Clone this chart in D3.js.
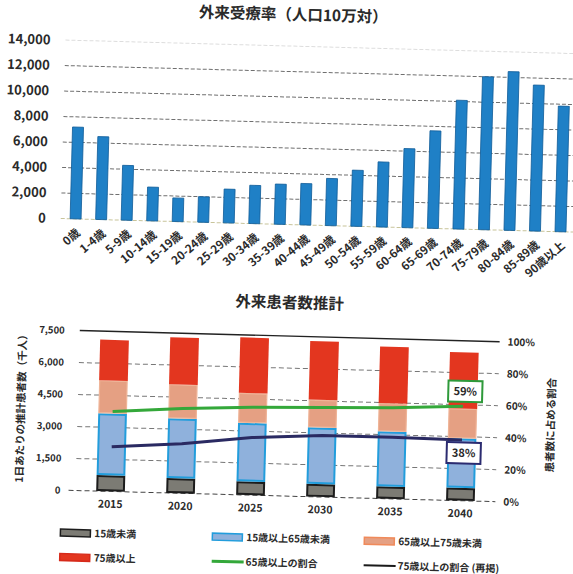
<!DOCTYPE html>
<html lang="ja">
<head>
<meta charset="utf-8">
<script src="https://cdn.jsdelivr.net/npm/d3@7"></script>
<style>
  html, body { margin: 0; padding: 0; background: #fff; }
  svg { display: block; }
  text { font-family: "Noto Sans CJK JP", "Noto Sans", sans-serif; fill: #2a2a2a; }
</style>
</head>
<body>
<script>
// 外来受療率（人口10万対）
const ageGroups = ["0歳","1-4歳","5-9歳","10-14歳","15-19歳","20-24歳","25-29歳","30-34歳","35-39歳","40-44歳",
  "45-49歳","50-54歳","55-59歳","60-64歳","65-69歳","70-74歳","75-79歳","80-84歳","85-89歳","90歳以上"];
const visitRate = [7200, 6500, 4300, 2650, 1850, 2000, 2650, 3000, 3150, 3250,
  3700, 4400, 5100, 6200, 7650, 10100, 12000, 12450, 11450, 9850];
const rateTicks = [0, 2000, 4000, 6000, 8000, 10000, 12000, 14000];

// 外来患者数推計（千人）
const years = ["2015", "2020", "2025", "2030", "2035", "2040"];
const under15 = [750, 700, 630, 600, 570, 600];
const age15to64 = [2900, 2800, 2750, 2650, 2580, 2320];
const age65to74 = [1550, 1600, 1400, 1300, 1330, 1400];
const age75plus = [1900, 2200, 2600, 2750, 2650, 2630];
const share65plus = [50, 53, 55, 56, 57, 59];
const share75plus = [28, 31, 36, 38.5, 38.5, 38];
const patientTicks = [0, 1500, 3000, 4500, 6000, 7500];
const shareTicks = [0, 20, 40, 60, 80, 100];
const seriesKeys = ["15歳未満", "15歳以上65歳未満", "65歳以上75歳未満", "75歳以上"];
const lineKeys = ["65歳以上の割合", "75歳以上の割合 (再掲)"];

const W = 573, H = 574;
const svg = d3.select("body").append("svg").attr("width", W).attr("height", H);
svg.append("rect").attr("width", W).attr("height", H).attr("fill", "#fff");
// the printed page sits slightly skewed
const root = svg.append("g").attr("transform", "rotate(1.52, 286, 287)");

/* ---------- upper chart: visit rate by age ---------- */
const rateChart = root.append("g");
const xTop = d3.scaleBand().domain(ageGroups).range([61.1, 571.7]).paddingInner(0.57).paddingOuter(0.285);
const yTop = d3.scaleLinear().domain([0, 14000]).range([224.5, 46]);

rateChart.append("text").attr("x", 286).attr("y", 20).attr("text-anchor", "middle")
  .attr("font-size", 15.5).attr("font-weight", 700).text("外来受療率（人口10万対）");

rateChart.append("g").selectAll("line").data(rateTicks).join("line")
  .attr("x1", 59).attr("x2", 573)
  .attr("y1", d => yTop(d)).attr("y2", d => yTop(d))
  .attr("stroke", d => d === 14000 ? "#ddd" : (d === 0 ? "#c8c49a" : "#6f6f6f"))
  .attr("stroke-width", 1).attr("stroke-dasharray", "4 2");

const yAxisTop = rateChart.append("g").attr("transform", "translate(50,0)")
  .call(d3.axisLeft(yTop).tickValues(rateTicks).tickFormat(d3.format(",")).tickSize(0).tickPadding(6));
yAxisTop.select(".domain").remove();
yAxisTop.selectAll("text").attr("font-size", 13).attr("font-weight", 700).attr("fill", "#333")
  .style("font-family", '"Noto Sans CJK JP", sans-serif');

rateChart.append("g").selectAll("rect").data(ageGroups).join("rect")
  .attr("x", d => xTop(d)).attr("width", xTop.bandwidth())
  .attr("y", (d, i) => yTop(visitRate[i])).attr("height", (d, i) => yTop(0) - yTop(visitRate[i]))
  .attr("fill", "#1f80c6").attr("stroke", "#0f5c98").attr("stroke-width", 0.8);

const xAxisTop = rateChart.append("g").attr("transform", `translate(0,${yTop(0)})`)
  .call(d3.axisBottom(xTop).tickSize(0));
xAxisTop.select(".domain").remove();
xAxisTop.selectAll("text")
  .attr("y", 0).attr("dy", "0.35em")
  .attr("transform", "translate(3,12) rotate(-42)")
  .attr("text-anchor", "end")
  .attr("font-size", 11.5).attr("font-weight", 700).attr("fill", "#333")
  .style("font-family", '"Noto Sans CJK JP", sans-serif');

/* ---------- lower chart: projected outpatients ---------- */
const patientChart = root.append("g");
const xBot = d3.scaleBand().domain(years).range([81, 501]).paddingInner(0.59).paddingOuter(0.295);
const yBot = d3.scaleLinear().domain([0, 7500]).range([496, 336]);
const yPct = d3.scaleLinear().domain([0, 100]).range([496, 336]);

patientChart.append("text").attr("x", 290).attr("y", 308).attr("text-anchor", "middle")
  .attr("font-size", 15.5).attr("font-weight", 700).text("外来患者数推計");

patientChart.append("g").selectAll("line").data(patientTicks).join("line")
  .attr("x1", d => d === 0 ? 74 : 81).attr("x2", 501)
  .attr("y1", d => yBot(d)).attr("y2", d => yBot(d))
  .attr("stroke", d => d === 7500 ? "#222" : (d === 0 ? "#444" : "#777"))
  .attr("stroke-width", d => d === 7500 ? 1.4 : 1)
  .attr("stroke-dasharray", d => d === 7500 ? null : "5 3");

const yAxisL = patientChart.append("g").attr("transform", "translate(70,0)")
  .call(d3.axisLeft(yBot).tickValues(patientTicks).tickFormat(d3.format(",")).tickSize(0).tickPadding(4));
yAxisL.select(".domain").remove();
yAxisL.selectAll("text").attr("font-size", 9.5).attr("font-weight", 700).attr("fill", "#444")
  .style("font-family", '"Noto Sans CJK JP", sans-serif');

const yAxisR = patientChart.append("g").attr("transform", "translate(505,0)")
  .call(d3.axisRight(yPct).tickValues(shareTicks).tickFormat(d => d + "%").tickSize(0).tickPadding(4));
yAxisR.select(".domain").remove();
yAxisR.selectAll("text").attr("font-size", 10).attr("font-weight", 700).attr("fill", "#444")
  .style("font-family", '"Noto Sans CJK JP", sans-serif');

patientChart.append("text").attr("transform", "translate(28,413) rotate(-90)").attr("text-anchor", "middle")
  .attr("font-size", 10.5).attr("font-weight", 700).attr("fill", "#333").text("1日あたりの推計患者数（千人）");
patientChart.append("text").attr("transform", "translate(558,418) rotate(-90)").attr("text-anchor", "middle")
  .attr("font-size", 10.5).attr("font-weight", 700).attr("fill", "#333").text("患者数に占める割合");

const rows = years.map((y, i) => ({
  year: y,
  [seriesKeys[0]]: under15[i],
  [seriesKeys[1]]: age15to64[i],
  [seriesKeys[2]]: age65to74[i],
  [seriesKeys[3]]: age75plus[i]
}));
const stacked = d3.stack().keys(seriesKeys)(rows);
const segFill = ["#7c7b74", "#8fb1dc", "#e5a083", "#e3361f"];
const segStroke = ["#1c1c1c", "#229ddc", "#efb497", "#e3361f"];
const segWidth = [2, 2, 1.2, 0];

patientChart.append("g").selectAll("g").data(stacked).join("g")
  .each(function(layer, k) {
    d3.select(this).selectAll("rect").data(layer).join("rect")
      .attr("x", d => xBot(d.data.year) + segWidth[k] / 2)
      .attr("width", xBot.bandwidth() - segWidth[k])
      .attr("y", d => yBot(d[1]) + segWidth[k] / 2)
      .attr("height", d => Math.max(0, yBot(d[0]) - yBot(d[1]) - segWidth[k]))
      .attr("fill", segFill[k])
      .attr("stroke", segWidth[k] ? segStroke[k] : "none")
      .attr("stroke-width", segWidth[k]);
  });

const xAxisB = patientChart.append("g").attr("transform", `translate(0,${yBot(0)})`)
  .call(d3.axisBottom(xBot).tickSize(0).tickPadding(9));
xAxisB.select(".domain").remove();
xAxisB.selectAll("text").attr("font-size", 10.5).attr("font-weight", 700).attr("fill", "#333")
  .style("font-family", '"Noto Sans CJK JP", sans-serif');

const cx = d => xBot(d) + xBot.bandwidth() / 2;
const shareLine = d3.line().x((d, i) => cx(years[i])).y(d => yPct(d));
patientChart.append("path").datum(share65plus).attr("d", shareLine)
  .attr("fill", "none").attr("stroke", "#34a83a").attr("stroke-width", 3);
patientChart.append("path").datum(share75plus).attr("d", shareLine)
  .attr("fill", "none").attr("stroke", "#2a2a62").attr("stroke-width", 3);

// value callouts for 2040
const last = years.length - 1;
const callouts = [
  { v: share65plus[last], dy: -15, color: "#2e9a3a" },
  { v: share75plus[last], dy: 13, color: "#2b2b70" }
];
callouts.forEach(c => {
  const gx = cx(years[last]) + 2, gy = yPct(c.v) + c.dy;
  patientChart.append("rect").attr("x", gx - 17).attr("y", gy - 10.5).attr("width", 34).attr("height", 21)
    .attr("fill", "#fff").attr("stroke", c.color).attr("stroke-width", 2);
  patientChart.append("text").attr("x", gx).attr("y", gy + 4).attr("text-anchor", "middle")
    .attr("font-size", 11).attr("font-weight", 700).attr("fill", "#222").text(Math.round(c.v) + "%");
});

/* ---------- legend ---------- */
const legend = root.append("g");
const legendItems = [
  { label: seriesKeys[0], kind: "rect", fill: segFill[0], stroke: "#1c1c1c", col: 0, row: 0 },
  { label: seriesKeys[1], kind: "rect", fill: segFill[1], stroke: "#229ddc", col: 1, row: 0 },
  { label: seriesKeys[2], kind: "rect", fill: segFill[2], stroke: "#f08a5a", col: 2, row: 0 },
  { label: seriesKeys[3], kind: "rect", fill: segFill[3], stroke: "#d62a1a", col: 0, row: 1 },
  { label: lineKeys[0], kind: "line", stroke: "#34a83a", col: 1, row: 1 },
  { label: lineKeys[1], kind: "line", stroke: "#1a1a1a", col: 2, row: 1 }
];
const colX = [67, 219, 371], rowY = [538.5, 563];
legendItems.forEach(it => {
  const x = colX[it.col], y = rowY[it.row];
  if (it.kind === "rect") {
    legend.append("rect").attr("x", x).attr("y", y - 3.5).attr("width", 30).attr("height", 7)
      .attr("fill", it.fill).attr("stroke", it.stroke).attr("stroke-width", 1.5);
  } else {
    legend.append("line").attr("x1", x).attr("x2", x + 32).attr("y1", y).attr("y2", y)
      .attr("stroke", it.stroke).attr("stroke-width", it.col === 1 ? 3 : 2);
  }
  legend.append("text").attr("x", x + 34).attr("y", y + 3.5)
    .attr("font-size", 10).attr("font-weight", 700).attr("fill", "#333").text(it.label);
});
</script>
</body>
</html>
